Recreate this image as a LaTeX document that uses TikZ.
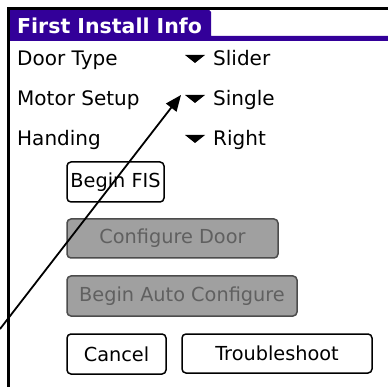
\documentclass[tikz,border=0pt]{standalone}
\usepackage{fontspec}
\setmainfont{DejaVu Sans}
\usetikzlibrary{arrows.meta}
\definecolor{palmpurple}{HTML}{330099}
\definecolor{disfill}{HTML}{A0A0A0}
\definecolor{distext}{HTML}{606060}
\tikzset{
  lbl/.style={anchor=base west, inner sep=0pt, font=\fontsize{20}{24}\selectfont},
  ttl/.style={anchor=base west, inner sep=0pt, text=white, font=\fontsize{20.5}{24}\selectfont\bfseries},
  btn/.style={draw=black, line width=1.5pt, rounded corners=4pt, inner sep=0pt, fill=white,
    font=\fontsize{19.3}{23}\selectfont},
  disbtn/.style={btn, draw=black!70, fill=disfill, text=distext},
  drop/.style={fill=black},
  pointer/.style={line width=1.8pt, -{Triangle[length=16pt,width=13pt]}}
}
\begin{document}
\begin{tikzpicture}[x=1pt,y=-1pt]
\useasboundingbox (0,0) rectangle (388,387);
% title bar
\fill[palmpurple] (10,10) -- (209,10) -- (211,12) -- (211,36) -- (388,36) -- (388,41) -- (10,41) -- cycle;
\node[ttl] (title) at (17,34) {First Install Info};
% frame
\draw[line width=3pt] (8.5,387) -- (8.5,8.5) -- (388,8.5);
% rows
\node[lbl] (doortype) at (17,66) {Door Type};
\node[lbl] (motor) at (17,106) {Motor Setup};
\node[lbl] (handing) at (17,146) {Handing};
\fill[drop] (185,55) -- (205,55) -- (195,63) -- cycle;
\fill[drop] (185,95) -- (205,95) -- (195,103) -- cycle;
\fill[drop] (185,135) -- (205,135) -- (195,143) -- cycle;
\node[lbl] (slider) at (213,66) {Slider};
\node[lbl] (single) at (213,106) {Single};
\node[lbl] (right) at (213,146) {Right};
% buttons
\node[btn, minimum width=97pt, minimum height=40pt] (beginfis) at (115.5,182) {Begin FIS};
\node[disbtn, minimum width=211pt, minimum height=39pt] (confdoor) at (172.5,238.5) {Configure Door};
\node[disbtn, minimum width=230pt, minimum height=40pt] (autoconf) at (182,296) {Begin Auto Configure};
\node[btn, minimum width=99pt, minimum height=40pt] (cancel) at (116.5,354) {Cancel};
\node[btn, minimum width=190pt, minimum height=39pt] (trouble) at (277,353.5) {Troubleshoot};
% pointer arrow
\coordinate (ptrstart) at (0,329);
\coordinate (ptrend) at (181,95);
\draw[pointer] (ptrstart) -- (ptrend);
\end{tikzpicture}
\end{document}
